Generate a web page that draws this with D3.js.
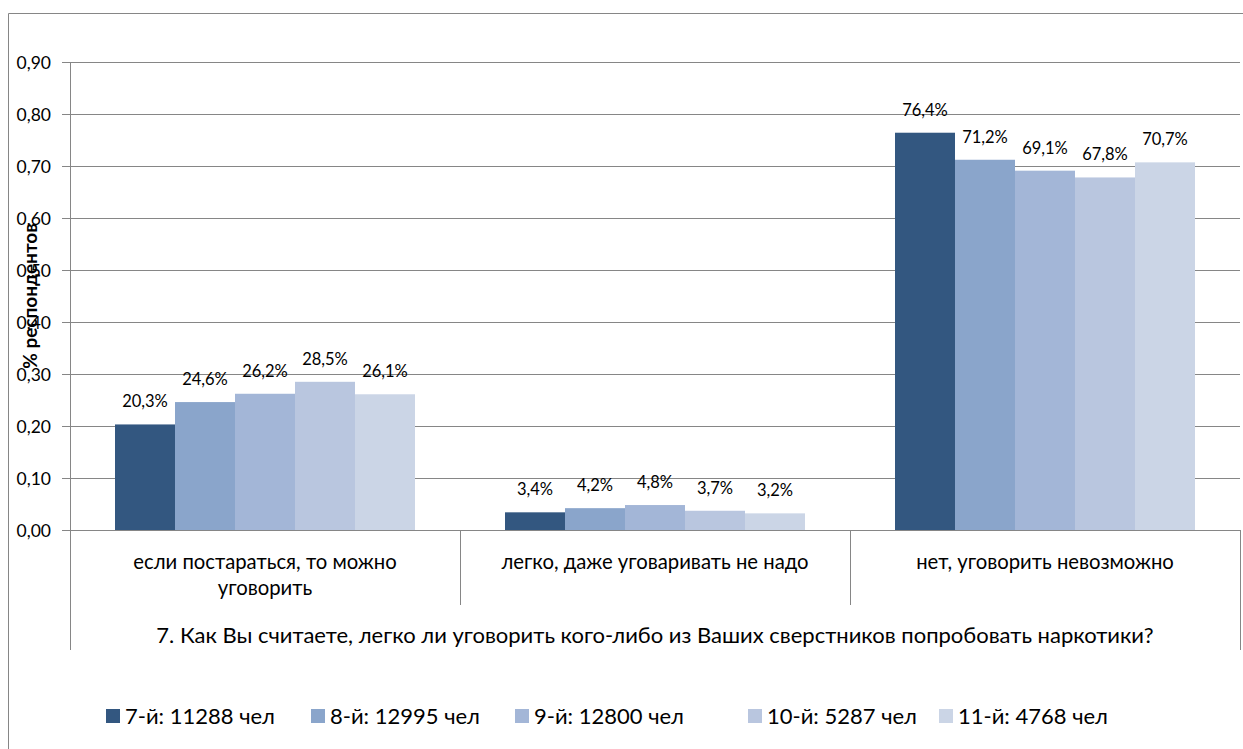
<!DOCTYPE html>
<html><head><meta charset="utf-8">
<script src="https://cdn.jsdelivr.net/npm/d3@7"></script>
<style>body{margin:0;background:#fff}svg{display:block}text{font-family:Lato,"Noto Sans",sans-serif;fill:#000}</style>
</head><body><svg id="c" width="1243" height="749"></svg>
<script>
const categories = ["если постараться, то можно уговорить", "легко, даже уговаривать не надо", "нет, уговорить невозможно"];
const categoryLines = [["если постараться, то можно", "уговорить"], ["легко, даже уговаривать не надо"], ["нет, уговорить невозможно"]];
const seriesNames = ["7-й: 11288 чел", "8-й: 12995 чел", "9-й: 12800 чел", "10-й: 5287 чел", "11-й: 4768 чел"];
const s7 = [0.203, 0.034, 0.764];
const s8 = [0.246, 0.042, 0.712];
const s9 = [0.262, 0.048, 0.691];
const s10 = [0.285, 0.037, 0.678];
const s11 = [0.261, 0.032, 0.707];
const colors = ["#335780", "#8aa5cb", "#a3b6d7", "#b9c6df", "#cbd5e6"];
const yTicks = [0, 0.1, 0.2, 0.3, 0.4, 0.5, 0.6, 0.7, 0.8, 0.9];
const groupTitle = "7. Как Вы считаете, легко ли уговорить кого-либо из Ваших сверстников попробовать наркотики?";
const yTitle = "% респондентов";

const series = [s7, s8, s9, s10, s11];
const svg = d3.select("#c");
const grid = "#868686";

// outer chart border
svg.append("path").attr("d", "M8.5,749 L8.5,13.5 L1243,13.5").attr("fill", "none").attr("stroke", grid);

const x0 = d3.scaleBand().domain(categories).range([70, 1240]).padding(0);
const x1 = d3.scaleBand().domain(seriesNames).range([0, x0.bandwidth()]).paddingInner(0).paddingOuter(0.75);
const y = d3.scaleLinear().domain([0, 0.9]).range([530, 62]);

// y axis with gridlines
const yAxis = d3.axisLeft(y).tickValues(yTicks).tickSize(8).tickFormat(d => d3.format(".2f")(d).replace(".", ","));
const yg = svg.append("g").attr("transform", "translate(70,0)").call(yAxis);
yg.select(".domain").remove();
yg.selectAll(".tick line").attr("stroke", grid);
yg.selectAll(".tick text").attr("font-size", 17.5).attr("x", -19).attr("dy", "0.35em").style("font-family", "Lato,sans-serif");
svg.append("g").selectAll("line").data(yTicks).join("line")
  .attr("x1", 70).attr("x2", 1240).attr("y1", d => Math.round(y(d)) + 0.5).attr("y2", d => Math.round(y(d)) + 0.5)
  .attr("stroke", grid);
// y axis vertical line
svg.append("line").attr("x1", 70.5).attr("x2", 70.5).attr("y1", 62).attr("y2", 650).attr("stroke", grid);

// bars
const groups = svg.append("g").selectAll("g").data(categories).join("g").attr("transform", d => `translate(${x0(d)},0)`);
groups.each(function(cat, ci) {
  const g = d3.select(this);
  const vals = series.map((s, si) => ({name: seriesNames[si], v: s[ci], c: colors[si]}));
  g.selectAll("rect").data(vals).join("rect")
    .attr("x", d => x1(d.name)).attr("width", x1.bandwidth())
    .attr("y", d => y(d.v)).attr("height", d => y(0) - y(d.v)).attr("fill", d => d.c);
  g.selectAll("text").data(vals).join("text")
    .attr("x", d => x1(d.name) + x1.bandwidth() / 2).attr("y", d => y(d.v) - 17)
    .attr("text-anchor", "middle").attr("font-size", 16.5)
    .text(d => d3.format(".1f")(d.v * 100).replace(".", ",") + "%");
});

// category separators
const seps = [70, ...categories.map(c => x0(c) + x0.bandwidth())];
svg.append("g").selectAll("line").data(seps.slice(1)).join("line")
  .attr("x1", d => Math.round(d) + 0.5).attr("x2", d => Math.round(d) + 0.5)
  .attr("y1", 530).attr("y2", (d, i) => i === seps.length - 2 ? 650 : 605).attr("stroke", grid);
svg.append("line").attr("x1", 62).attr("x2", 70).attr("y1", 530.5).attr("y2", 530.5).attr("stroke", grid);

// category labels
categories.forEach((c, i) => {
  const t = svg.append("text").attr("x", x0(c) + x0.bandwidth() / 2).attr("y", 569).attr("text-anchor", "middle").attr("font-size", 20.3);
  categoryLines[i].forEach((ln, j) => t.append("tspan").attr("x", x0(c) + x0.bandwidth() / 2).attr("dy", j === 0 ? 0 : 26).text(ln));
});
svg.append("text").attr("x", 655).attr("y", 643).attr("text-anchor", "middle").attr("font-size", 22).text(groupTitle);

// y title
svg.append("text").attr("transform", "translate(37,296) rotate(-90)").attr("text-anchor", "middle")
  .attr("font-size", 19).attr("font-weight", "bold").text(yTitle);

// legend
const legX = [106, 311, 515, 748, 939];
const leg = svg.append("g").selectAll("g").data(seriesNames).join("g").attr("transform", (d, i) => `translate(${legX[i]},709)`);
leg.append("rect").attr("width", 14).attr("height", 14).attr("fill", (d, i) => colors[i]);
leg.append("text").attr("x", 19).attr("y", 15).attr("font-size", 22).text(d => d);
</script></body></html>
